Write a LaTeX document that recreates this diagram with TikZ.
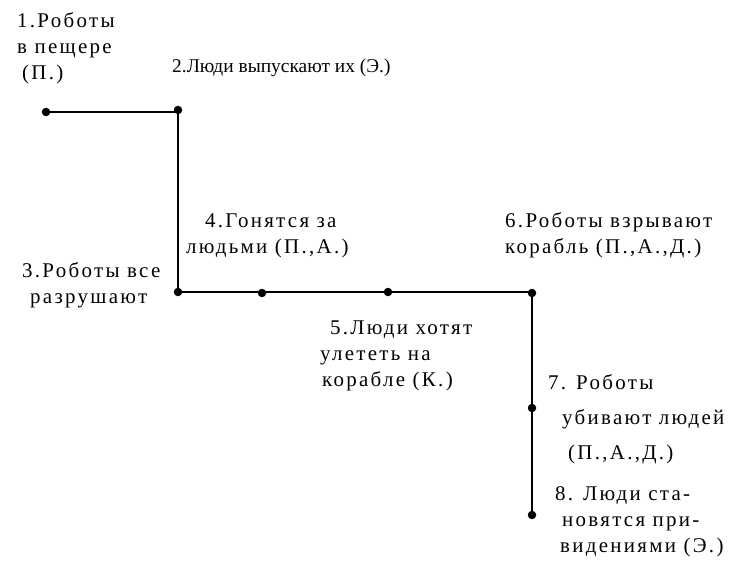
\documentclass[tikz,border=0pt]{standalone}
\usepackage{fontspec}
\setmainfont{Liberation Serif}
\newfontfamily\spacedserif[LetterSpace=11]{Liberation Serif}
\begin{document}
\begin{tikzpicture}[x=1bp,y=-1bp,
  event/.style={circle,fill=black,inner sep=0pt,minimum size=8.5bp},
  path line/.style={line width=1.8bp,black},
  caption/.style={anchor=north west,inner sep=0pt,align=left,
    font=\spacedserif\fontsize{21}{26}\selectfont}]
  \useasboundingbox (0,0) rectangle (734,561);

  % timeline points
  \node[event] (e1) at (46,112) {};
  \node[event] (e2) at (178,110) {};
  \node[event] (e3) at (178,292) {};
  \node[event] (e4) at (262,293) {};
  \node[event] (e5) at (388,292) {};
  \node[event] (e6) at (532,293) {};
  \node[event] (e7) at (532,408) {};
  \node[event] (e8) at (532,515) {};

  % the staircase connecting the events
  \draw[path line] (e1.center) -- (e2.center |- e1.center) -- (e2.center)
    -- (e3.center) -- (e6.center |- e3.center) -- (e8.center);

  % event captions
  \node[caption] (t1) at (17,9) {\strut 1.Роботы\\\strut в пещере\\\strut\hspace*{5bp}(П.)};
  \node[caption,font=\fontsize{19.5}{26}\selectfont] (t2) at (172,54) {\strut 2.Люди выпускают их (Э.)};
  \node[caption] (t3) at (22,259) {\strut 3.Роботы все\\\strut\hspace*{8bp}разрушают};
  \node[caption] (t4) at (186,209) {\strut\hspace*{19bp}4.Гонятся за\\\strut людьми (П.,А.)};
  \node[caption] (t5) at (320,316) {\strut\hspace*{10bp}5.Люди хотят\\\strut улететь на\\\strut\hspace*{2bp}корабле (К.)};
  \node[caption] (t6) at (505,209) {\strut 6.Роботы взрывают\\\strut корабль (П.,А.,Д.)};
  \node[caption,font=\spacedserif\fontsize{21}{35}\selectfont] (t7) at (548,365) {\strut 7. Роботы\\\strut\hspace*{14bp}убивают людей\\\strut\hspace*{20bp}(П.,А.,Д.)};
  \node[caption] (t8) at (555,482) {\strut 8. Люди ста-\\\strut\hspace*{7bp}новятся при-\\\strut\hspace*{5bp}видениями (Э.)};
\end{tikzpicture}
\end{document}
